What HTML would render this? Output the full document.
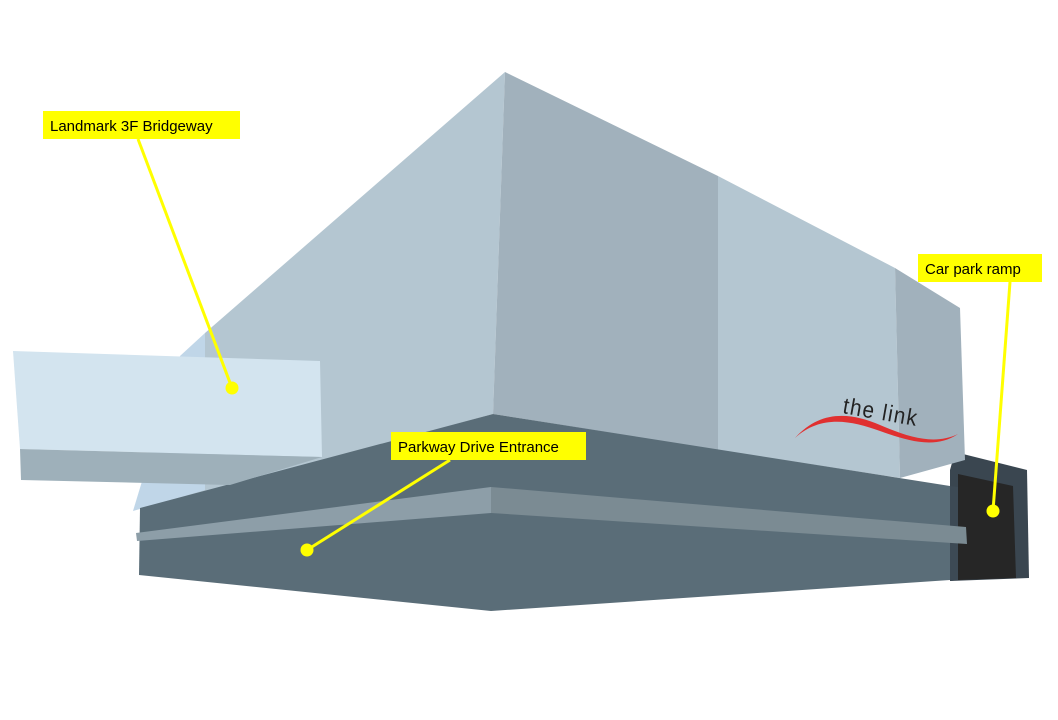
<!DOCTYPE html>
<html><head><meta charset="utf-8"><style>
html,body{margin:0;padding:0;background:#fff;width:1058px;height:720px;overflow:hidden}
svg{display:block}
text{font-family:"Liberation Sans",sans-serif}
</style></head><body>
<svg width="1058" height="720" viewBox="0 0 1058 720" xmlns="http://www.w3.org/2000/svg">
<!-- car park (behind roof) -->
<polygon points="955,452 1027,470 1029,578 950,581 950,470" fill="#3a4650"/>
<polygon points="958,474 1013,486 1016,578 958,580" fill="#262626"/>
<!-- roof faces -->
<polygon points="505,72 205,333 160,505 493,414" fill="#b4c6d1"/>
<!-- light blue sliver -->
<polygon points="205,333 180,356 133,511 205,490" fill="#c0d6e8"/>
<polygon points="505,72 718,176 718,450 493,414" fill="#a1b1bc"/>
<polygon points="718,176 895,268 900,478 718,450" fill="#b4c6d1"/>
<polygon points="895,268 960,308 965,460 900,478" fill="#a1b1bc"/>
<!-- base -->
<polygon points="140,508 493,414 950,486 950,580 491,611 139,575" fill="#5a6d78"/>
<polygon points="950,486 958,487 958,580 950,581" fill="#3d4a55"/>
<!-- stripe -->
<polygon points="136,533 491,487 491,513 137,541" fill="#8d9ea8"/>
<polygon points="491,487 966,527 967,544 491,513" fill="#7b8b93"/>
<!-- bridgeway -->
<polygon points="13,351 320,361 322,457 20,449" fill="#d3e4ef"/>
<polygon points="20,449 322,457 230,485 21,480" fill="#9eb0ba"/>
<!-- the link logo -->
<path d="M795,438 C820,410 850,412 880,425 C910,438 935,445 958,434 C935,450 905,440 880,431 C850,420 820,415 795,438 Z" fill="#e03030"/>
<text x="842" y="413" font-size="23" fill="#222" transform="rotate(10 842 413)" letter-spacing="1.5" textLength="76" lengthAdjust="spacingAndGlyphs">the link</text>
<!-- connectors -->
<g stroke="#ffff00" stroke-width="3">
<line x1="138" y1="139" x2="232" y2="388"/>
<line x1="450" y1="460" x2="307" y2="550"/>
<line x1="1010" y1="282" x2="993" y2="511"/>
</g>
<g fill="#ffff00">
<circle cx="232" cy="388" r="6.5"/>
<circle cx="307" cy="550" r="6.5"/>
<circle cx="993" cy="511" r="6.5"/>
<rect x="43" y="111" width="197" height="28"/>
<rect x="391" y="432" width="195" height="28"/>
<rect x="918" y="254" width="124" height="28"/>
</g>
<g font-size="15" fill="#000">
<text x="50" y="131">Landmark 3F Bridgeway</text>
<text x="398" y="452">Parkway Drive Entrance</text>
<text x="925" y="274">Car park ramp</text>
</g>
</svg>
</body></html>
